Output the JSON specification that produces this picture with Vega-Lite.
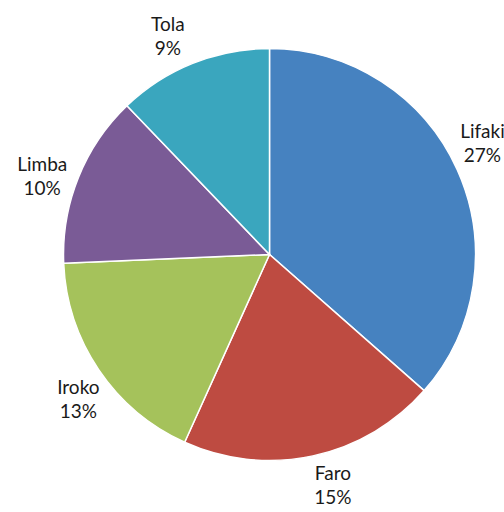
{
  "$schema": "https://vega.github.io/schema/vega-lite/v6.json",
  "width": 539,
  "height": 509,
  "padding": {"left": 0, "top": 0, "right": 0, "bottom": 3},
  "autosize": "none",
  "background": "white",
  "config": {"view": {"stroke": null}},
  "data": {
    "values": [
      {"species": "Lifaki", "value": 27, "label": "Lifaki\n27%", "order": 1},
      {"species": "Faro", "value": 15, "label": "Faro\n15%", "order": 2},
      {"species": "Iroko", "value": 13, "label": "Iroko\n13%", "order": 3},
      {"species": "Limba", "value": 10, "label": "Limba\n10%", "order": 4},
      {"species": "Tola", "value": 9, "label": "Tola\n9%", "order": 5}
    ]
  },
  "encoding": {
    "theta": {"field": "value", "type": "quantitative", "stack": true},
    "order": {"field": "order", "type": "quantitative"}
  },
  "layer": [
    {
      "mark": {"type": "arc", "outerRadius": 206, "stroke": "white", "strokeWidth": 1.5},
      "encoding": {
        "color": {
          "field": "species",
          "type": "nominal",
          "scale": {
            "domain": ["Lifaki", "Faro", "Iroko", "Limba", "Tola"],
            "range": ["#4682C0", "#BE4B41", "#A5C25B", "#7A5B96", "#3AA6BE"]
          },
          "legend": null
        }
      }
    },
    {
      "mark": {
        "type": "text",
        "radius": 240,
        "thetaOffset": -0.055,
        "dy": -12,
        "fontSize": 19,
        "font": "Lato",
        "lineBreak": "\n",
        "lineHeight": 24,
        "align": "center",
        "baseline": "middle",
        "color": "#1a1a1a"
      },
      "encoding": {
        "text": {"field": "label", "type": "nominal"}
      }
    }
  ]
}
